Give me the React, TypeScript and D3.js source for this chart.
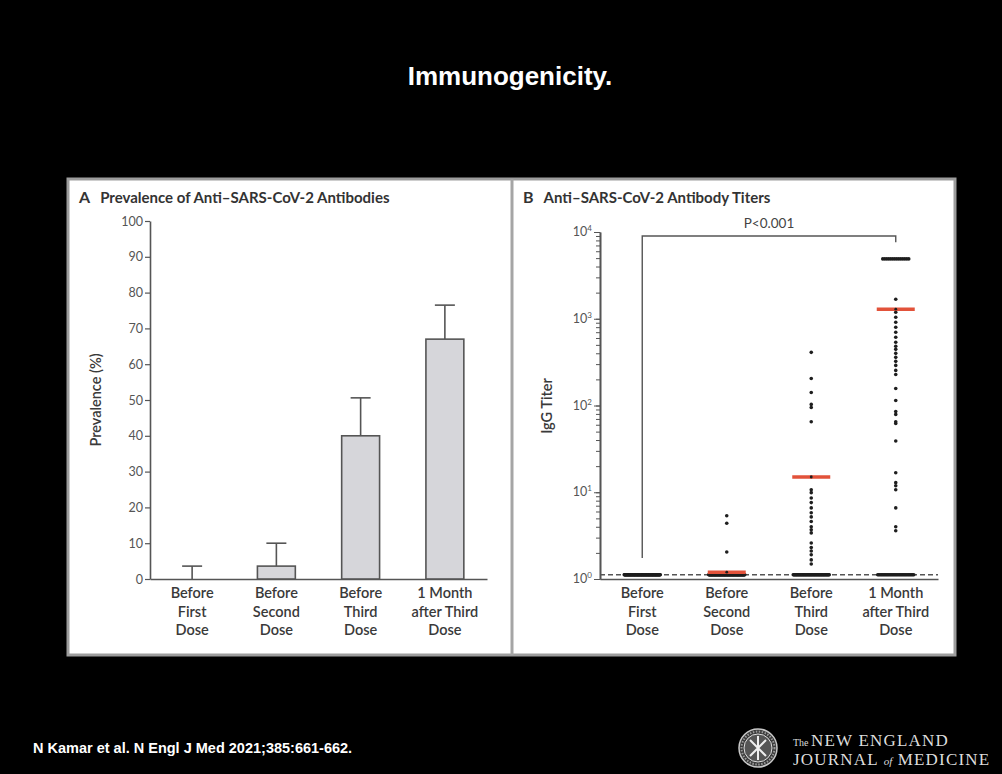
import * as d3 from "d3";
import { useEffect, useRef } from "react";

// categories (shared by both panels)
const categories = ["first", "second", "third", "month"];
const categoryLines = [
  ["Before", "First", "Dose"],
  ["Before", "Second", "Dose"],
  ["Before", "Third", "Dose"],
  ["1 Month", "after Third", "Dose"],
];

// panel A: prevalence (%) and upper error bar
const prevalence = [0, 3.6, 40, 67];
const prevalenceUpper = [3.6, 10, 50.6, 76.5];
const prevalenceTicks = [0, 10, 20, 30, 40, 50, 60, 70, 80, 90, 100];

// panel B: IgG titers of the patients above the detection limit
const titersFirst: number[] = [];
const titersSecond = [5.35, 4.4, 2.05];
const titersThird = [
  410, 205, 141, 103, 95, 65, 15, 10.7, 9.9, 8.6, 7.6, 6.6, 5.8, 5.2, 4.6, 4.0,
  3.7, 3.4, 2.6, 2.3, 2.1, 1.9, 1.66, 1.49,
];
const titersMonth = [
  1680, 1190, 1040, 912, 797, 698, 611, 535, 481, 444, 399, 359, 323, 290, 254,
  228, 157, 114, 85, 79, 65, 62, 39, 16.8, 12.9, 11.9, 10.7, 6.6, 4.0, 3.6,
];
const titers = [titersFirst, titersSecond, titersThird, titersMonth];
const belowLimitCount = [99, 95, 59, 33];
const upperLimitCount = [0, 0, 0, 14];
const titerMedian = [null, 1.2, 15, 1290];
const titerTicks = [1, 10, 100, 1000, 10000];
const detectionLimit = 1.12;
const upperLimit = 4900;
const pLabel = "P<0.001";
const bracket = { top: 9000, leftBottom: 1.75, rightBottom: 7600 };

const font = "Lato, 'Open Sans', sans-serif";

const App = () => {
  const svgRef = useRef(null);

  useEffect(() => {
    const svg = d3.select(svgRef.current);
    svg.selectAll("*").remove();

    svg.append("rect").attr("width", 1002).attr("height", 774).attr("fill", "#000");

    svg.append("text")
      .attr("x", 510).attr("y", 85)
      .attr("text-anchor", "middle")
      .style("font-family", "'Liberation Sans', Arial, sans-serif")
      .style("font-weight", "bold").style("font-size", "26px")
      .attr("fill", "#fff")
      .text("Immunogenicity.");

    // panels
    svg.append("rect").attr("x", 68).attr("y", 179).attr("width", 887).attr("height", 476)
      .attr("fill", "#fff").attr("stroke", "#9d9d9d").attr("stroke-width", 3);
    svg.append("line").attr("x1", 512).attr("x2", 512).attr("y1", 179).attr("y2", 655)
      .attr("stroke", "#a5a5a5").attr("stroke-width", 3);

    const panelTitle = (x, letter, title) => {
      const t = svg.append("text").attr("x", x).attr("y", 203)
        .style("font-family", font).style("font-weight", "bold").style("font-size", "15px")
        .attr("fill", "#333");
      t.append("tspan").style("font-size", "16px").text(letter);
      t.append("tspan").attr("dx", 10).text(title);
    };
    panelTitle(79, "A", "Prevalence of Anti\u2013SARS-CoV-2 Antibodies");
    panelTitle(523, "B", "Anti\u2013SARS-CoV-2 Antibody Titers");

    const catLabels = (x) => {
      categories.forEach((c, i) => {
        const cx = x(c) + x.bandwidth() / 2;
        const t = svg.append("text").attr("text-anchor", "middle")
          .style("font-family", font).style("font-weight", "600").style("font-size", "14.5px")
          .attr("fill", "#3a3a3a");
        categoryLines[i].forEach((line, j) => {
          t.append("tspan").attr("x", cx).attr("y", 598 + j * 18.5).text(line);
        });
      });
    };

    // ---------- panel A ----------
    const xA = d3.scaleBand().domain(categories).range([150, 487]).padding(0);
    const yA = d3.scaleLinear().domain([0, 100]).range([579, 221]);
    const barW = xA.step() * 0.45;

    const gA = svg.append("g");
    const axA = gA.append("g").attr("transform", "translate(150,0)")
      .call(d3.axisLeft(yA).tickValues(prevalenceTicks).tickSize(5).tickSizeOuter(0).tickPadding(2));
    const axB = gA.append("g").attr("transform", "translate(0,579)")
      .call(d3.axisBottom(xA).tickSize(0).tickSizeOuter(0).tickFormat(() => ""));
    [axA, axB].forEach((a) => {
      a.select(".domain").attr("stroke", "#555").attr("stroke-width", 1.6);
      a.selectAll(".tick line").attr("stroke", "#555").attr("stroke-width", 1.2);
      a.selectAll(".tick text").attr("fill", "#555")
        .style("font-family", font).style("font-size", "12.5px");
    });

    // error bars
    categories.forEach((c, i) => {
      const cx = xA(c) + xA.bandwidth() / 2;
      gA.append("line").attr("x1", cx).attr("x2", cx)
        .attr("y1", yA(prevalence[i])).attr("y2", yA(prevalenceUpper[i]))
        .attr("stroke", "#555").attr("stroke-width", 1.6);
      gA.append("line").attr("x1", cx - 10).attr("x2", cx + 10)
        .attr("y1", yA(prevalenceUpper[i])).attr("y2", yA(prevalenceUpper[i]))
        .attr("stroke", "#555").attr("stroke-width", 1.6);
    });
    gA.selectAll(".bar").data(prevalence).enter().append("rect")
      .attr("x", (d, i) => xA(categories[i]) + (xA.bandwidth() - barW) / 2)
      .attr("y", (d) => yA(d))
      .attr("width", barW)
      .attr("height", (d) => yA(0) - yA(d))
      .attr("fill", "#d6d6da").attr("stroke", "#555").attr("stroke-width", 1.6)
      .style("display", (d) => (d > 0 ? null : "none"));

    svg.append("text").attr("transform", "translate(101,400) rotate(-90)")
      .attr("text-anchor", "middle")
      .style("font-family", font).style("font-weight", "600").style("font-size", "14.5px")
      .attr("fill", "#3a3a3a").text("Prevalence (%)");
    catLabels(xA);

    // ---------- panel B ----------
    const xB = d3.scaleBand().domain(categories).range([600, 938]).padding(0);
    const yB = d3.scaleLog().domain([1, 10000]).range([579, 232]);
    const gB = svg.append("g");

    const minor = gB.append("g").attr("transform", "translate(600,0)")
      .call(d3.axisLeft(yB).tickValues(yB.ticks()).tickSize(4).tickSizeOuter(0).tickFormat(() => ""));
    const major = gB.append("g").attr("transform", "translate(600,0)")
      .call(d3.axisLeft(yB).tickValues(titerTicks).tickSize(6).tickSizeOuter(0).tickFormat(() => ""));
    const baseB = gB.append("g").attr("transform", "translate(0,579)")
      .call(d3.axisBottom(xB).tickSize(0).tickSizeOuter(0).tickFormat(() => ""));
    [minor, major, baseB].forEach((a) => {
      a.select(".domain").attr("stroke", "#555").attr("stroke-width", 1.6);
      a.selectAll(".tick line").attr("stroke", "#555").attr("stroke-width", 1);
    });
    titerTicks.forEach((v) => {
      const t = gB.append("text").attr("x", 592).attr("y", yB(v) + 4)
        .attr("text-anchor", "end")
        .style("font-family", font).style("font-size", "12.5px").attr("fill", "#555");
      t.append("tspan").text("10");
      t.append("tspan").attr("dy", -5).style("font-size", "8px").text(String(Math.round(Math.log10(v))));
    });

    // detection limit
    gB.append("line").attr("x1", 600).attr("x2", 938)
      .attr("y1", yB(detectionLimit)).attr("y2", yB(detectionLimit))
      .attr("stroke", "#555").attr("stroke-width", 1.4).attr("stroke-dasharray", "5,3");

    // bracket
    const bx0 = xB(categories[0]) + xB.bandwidth() / 2;
    const bx1 = xB(categories[3]) + xB.bandwidth() / 2;
    gB.append("path")
      .attr("d", `M${bx0},${yB(bracket.leftBottom)}V${yB(bracket.top)}H${bx1}V${yB(bracket.rightBottom)}`)
      .attr("fill", "none").attr("stroke", "#555").attr("stroke-width", 1.4);
    gB.append("text").attr("x", (bx0 + bx1) / 2).attr("y", 228).attr("text-anchor", "middle")
      .style("font-family", font).style("font-size", "13.5px").attr("fill", "#444").text(pLabel);

    const dotR = 1.8;
    categories.forEach((c, i) => {
      const cx = xB(c) + xB.bandwidth() / 2;
      // patients at the detection limit, spread across the group
      const spread = (n, w, v) => {
        d3.range(n).forEach((k) => {
          gB.append("circle")
            .attr("cx", cx - w / 2 + (n > 1 ? (k * w) / (n - 1) : w / 2))
            .attr("cy", yB(v)).attr("r", dotR).attr("fill", "#1e1e1e");
        });
      };
      spread(belowLimitCount[i], 36, detectionLimit);
      spread(upperLimitCount[i], 26, upperLimit);
      titers[i].forEach((v) => {
        gB.append("circle").attr("cx", cx).attr("cy", yB(v)).attr("r", dotR).attr("fill", "#1e1e1e");
      });
      const m = titerMedian[i];
      if (m != null) {
        gB.append("line").attr("x1", cx - 19).attr("x2", cx + 19)
          .attr("y1", yB(m)).attr("y2", yB(m))
          .attr("stroke", "#e2523a").attr("stroke-width", 3.5);
        gB.append("circle").attr("cx", cx).attr("cy", yB(m)).attr("r", 1.4).attr("fill", "#1e1e1e");
      }
    });

    svg.append("text").attr("transform", "translate(552,406) rotate(-90)")
      .attr("text-anchor", "middle")
      .style("font-family", font).style("font-weight", "600").style("font-size", "14.5px")
      .attr("fill", "#3a3a3a").text("IgG Titer");
    catLabels(xB);

    // ---------- footer ----------
    svg.append("text").attr("x", 33).attr("y", 753)
      .style("font-family", "'Liberation Sans', Arial, sans-serif")
      .style("font-weight", "bold").style("font-size", "14.5px").attr("fill", "#fff")
      .text("N Kamar et al. N Engl J Med 2021;385:661-662.");

    const logo = svg.append("g").attr("transform", "translate(758,748)");
    logo.append("circle").attr("r", 19).attr("fill", "#3a3a3a").attr("stroke", "#c8c8c8").attr("stroke-width", 1.5);
    logo.append("circle").attr("r", 14).attr("fill", "#555").attr("stroke", "#ddd").attr("stroke-width", 1);
    logo.append("path").attr("d", "M-8,-8L8,8M8,-8L-8,8M0,-12V12")
      .attr("stroke", "#eee").attr("stroke-width", 2);
    logo.append("circle").attr("r", 16.5).attr("fill", "none").attr("stroke", "#999")
      .attr("stroke-width", 2).attr("stroke-dasharray", "1.5,1.5");

    const serif = "'Liberation Serif', 'DejaVu Serif', serif";
    const l1 = svg.append("text").attr("x", 793).attr("y", 746)
      .style("font-family", serif).style("font-size", "17px").style("letter-spacing", "1.2px").attr("fill", "#ddd");
    l1.append("tspan").style("font-size", "10px").style("letter-spacing", "0px").text("The ");
    l1.append("tspan").text("NEW ENGLAND");
    const l2 = svg.append("text").attr("x", 793).attr("y", 765)
      .style("font-family", serif).style("font-size", "17px").style("letter-spacing", "1.2px").attr("fill", "#ddd");
    l2.append("tspan").text("JOURNAL ");
    l2.append("tspan").style("font-size", "11px").style("font-style", "italic").style("letter-spacing", "0px").text("of");
    l2.append("tspan").text(" MEDICINE");
  }, []);

  return (
    <svg ref={svgRef} width={1002} height={774}
      style={{ position: "absolute", left: 0, top: 0, display: "block" }} />
  );
};

export default App;
